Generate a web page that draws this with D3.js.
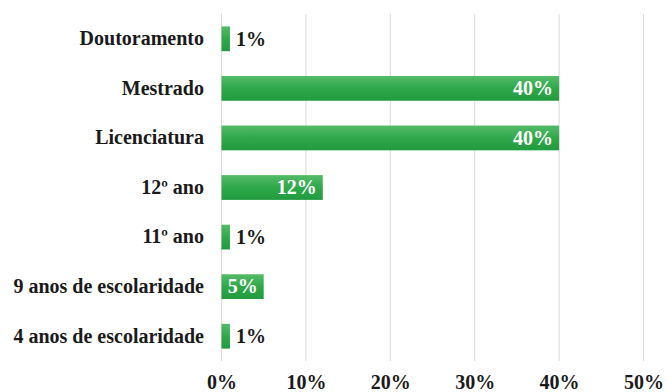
<!DOCTYPE html>
<html>
<head>
<meta charset="utf-8">
<script src="https://cdn.jsdelivr.net/npm/d3@7/dist/d3.min.js"></script>
<style>
  html, body { margin: 0; padding: 0; background: #fff; }
  svg { display: block; }
  text { font-family: "Liberation Serif", "Times New Roman", serif; font-weight: bold; }
</style>
</head>
<body>
<svg id="chart" width="667" height="392"></svg>
<script>
// Education level of respondents (share, %)
const categories = [
  "Doutoramento",
  "Mestrado",
  "Licenciatura",
  "12º ano",
  "11º ano",
  "9 anos de escolaridade",
  "4 anos de escolaridade"
];
const values = [1, 40, 40, 12, 1, 5, 1];
const tickValues = [0, 10, 20, 30, 40, 50];

const data = categories.map((c, i) => ({ category: c, value: values[i] }));

const svg = d3.select("#chart");
const x0 = 221.5, x1 = 643.5, yTop = 14, yBottom = 361;
const fontSize = 20;

const x = d3.scaleLinear().domain([0, 50]).range([x0, x1]);
const y = d3.scaleBand().domain(categories).range([yTop, yBottom]).paddingInner(0.5).paddingOuter(0.25);

// bar fill: lighter at top, darker at bottom
const defs = svg.append("defs");
const grad = defs.append("linearGradient")
  .attr("id", "barGrad").attr("x1", 0).attr("y1", 0).attr("x2", 0).attr("y2", 1);
grad.append("stop").attr("offset", "0%").attr("stop-color", "#55bb68");
grad.append("stop").attr("offset", "50%").attr("stop-color", "#2fa84b");
grad.append("stop").attr("offset", "100%").attr("stop-color", "#229a3f");

// vertical gridlines
svg.append("g")
  .selectAll("line")
  .data(tickValues)
  .join("line")
  .attr("x1", d => x(d)).attr("x2", d => x(d))
  .attr("y1", yTop).attr("y2", yBottom)
  .attr("stroke", "#d9d9d9").attr("stroke-width", 1);

// x axis tick labels
const xAxis = d3.axisBottom(x).tickValues(tickValues).tickFormat(d => d + "%").tickSize(0).tickPadding(0);
const gx = svg.append("g").attr("transform", `translate(0,${yBottom})`).call(xAxis);
gx.select(".domain").remove();
gx.selectAll("text")
  .attr("dy", null).attr("y", 28)
  .attr("font-family", "Liberation Serif, Times New Roman, serif")
  .attr("font-weight", "bold")
  .attr("font-size", fontSize)
  .attr("fill", "#1a1a1a");

// category labels
const yAxis = d3.axisLeft(y).tickSize(0).tickPadding(0);
const gy = svg.append("g").attr("transform", `translate(204,0)`).call(yAxis);
gy.select(".domain").remove();
gy.selectAll("text")
  .attr("font-family", "Liberation Serif, Times New Roman, serif")
  .attr("font-weight", "bold")
  .attr("font-size", fontSize)
  .attr("fill", "#1a1a1a");

// bars
svg.append("g")
  .selectAll("rect")
  .data(data)
  .join("rect")
  .attr("x", x(0))
  .attr("y", d => y(d.category))
  .attr("width", d => x(d.value) - x(0))
  .attr("height", y.bandwidth())
  .attr("fill", "url(#barGrad)");

// value labels: inside the bar end when wide enough, otherwise just past it
svg.append("g")
  .selectAll("text")
  .data(data)
  .join("text")
  .attr("x", d => d.value >= 5 ? x(d.value) - 6 : x(d.value) + 6)
  .attr("y", d => y(d.category) + y.bandwidth() / 2)
  .attr("dy", "0.34em")
  .attr("text-anchor", d => d.value >= 5 ? "end" : "start")
  .attr("font-size", fontSize)
  .attr("fill", d => d.value >= 5 ? "#ffffff" : "#1a1a1a")
  .text(d => d.value + "%");
</script>
</body>
</html>
